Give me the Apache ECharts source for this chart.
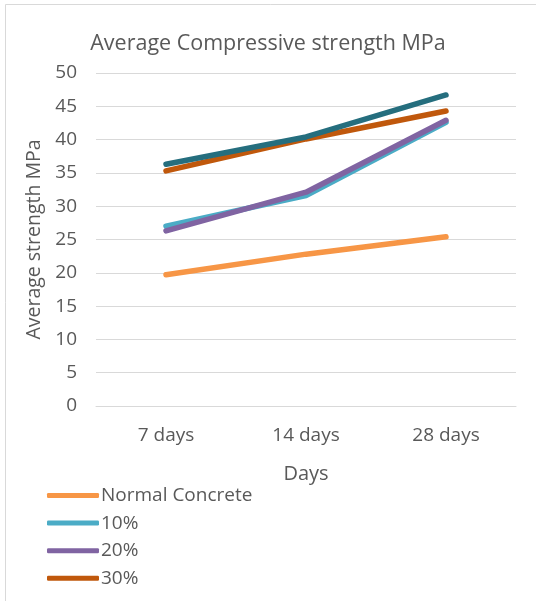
<!DOCTYPE html>
<html>
<head>
<meta charset="utf-8">
<script src="https://cdn.jsdelivr.net/npm/echarts@6/dist/echarts.min.js"></script>
<style>
  html, body { margin: 0; padding: 0; background: #fff; }
  #chart { width: 536px; height: 601px; }
</style>
</head>
<body>
<div id="chart"></div>
<script>
// Curing ages
const days = ['7 days', '14 days', '28 days'];

// Average compressive strength (MPa) per mix
const normalConcrete = [19.7, 22.8, 25.4];
const pct10 = [27.0, 31.6, 42.6];
const pct20 = [26.3, 32.1, 42.9];
const pct30 = [35.3, 40.1, 44.3];
const pct40 = [36.3, 40.4, 46.7];

const seriesNames = ['Normal Concrete', '10%', '20%', '30%', '40%'];
const legendNames = ['Normal Concrete', '10%', '20%', '30%'];
const seriesColors = ['#F79646', '#4BACC6', '#8064A2', '#C0580C', '#256E7E'];
const seriesData = [normalConcrete, pct10, pct20, pct30, pct40];

const FONT = 'Open Sans';
const TEXT = '#595959';

const chart = echarts.init(document.getElementById('chart'), null, { renderer: 'canvas' });

chart.setOption({
  animation: false,
  backgroundColor: '#ffffff',
  graphic: [
    { type: 'line', shape: { x1: 5.5, y1: 4.5, x2: 5.5, y2: 601 }, style: { stroke: '#d9d9d9', lineWidth: 1 } },
    { type: 'line', shape: { x1: 5.5, y1: 4.5, x2: 536, y2: 4.5 }, style: { stroke: '#d9d9d9', lineWidth: 1 } }
  ],
  title: {
    text: 'Average Compressive strength MPa',
    left: 'center',
    top: 28,
    textStyle: { fontFamily: FONT, fontSize: 21.5, fontWeight: 'normal', color: TEXT }
  },
  grid: { left: 96, right: 20, top: 73, bottom: 195 },
  legend: {
    orient: 'vertical',
    left: 42,
    top: 481,
    itemWidth: 52,
    itemHeight: 5,
    itemGap: 8.6,
    icon: 'roundRect',
    data: legendNames,
    textStyle: { fontFamily: FONT, fontSize: 19, color: TEXT, lineHeight: 19, padding: [0, 0, 0, -3] }
  },
  xAxis: {
    type: 'category',
    data: days,
    boundaryGap: true,
    name: 'Days',
    nameLocation: 'middle',
    nameGap: 58,
    nameTextStyle: { fontFamily: FONT, fontSize: 20, color: TEXT },
    axisLine: { show: true, lineStyle: { color: '#d9d9d9', width: 1 } },
    axisTick: { show: false },
    axisLabel: { margin: 20, fontFamily: FONT, fontSize: 19, color: TEXT }
  },
  yAxis: {
    type: 'value',
    min: 0,
    max: 50,
    interval: 5,
    name: 'Average strength MPa',
    nameLocation: 'middle',
    nameGap: 51,
    nameRotate: 90,
    nameTextStyle: { fontFamily: FONT, fontSize: 19.5, color: TEXT },
    axisLine: { show: false },
    axisTick: { show: false },
    axisLabel: { margin: 19, fontFamily: FONT, fontSize: 19, color: TEXT },
    splitLine: { show: true, lineStyle: { color: '#d9d9d9', width: 1 } }
  },
  series: seriesNames.map((name, i) => ({
    name: name,
    type: 'line',
    data: seriesData[i],
    symbol: 'none',
    smooth: false,
    color: seriesColors[i],
    lineStyle: { width: 5.5, color: seriesColors[i], cap: 'round', join: 'round' },
    z: 2 + i
  }))
});
</script>
</body>
</html>
